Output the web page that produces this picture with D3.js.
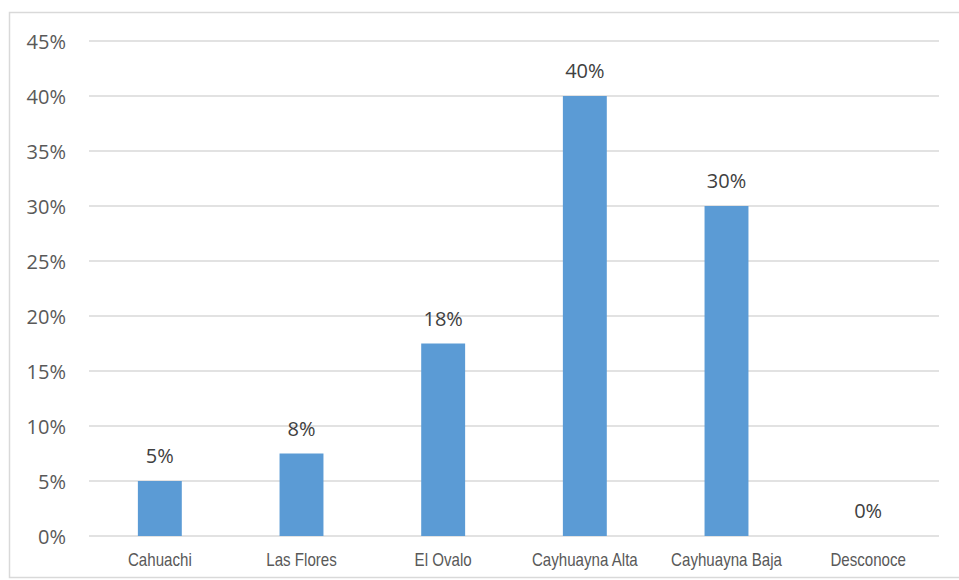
<!DOCTYPE html>
<html><head><meta charset="utf-8">
<script src="https://cdn.jsdelivr.net/npm/d3@7"></script>
<style>body{margin:0;background:#fff}svg{display:block}</style>
</head><body>
<svg id="c" width="959" height="580"></svg>
<script>
const categories = ["Cahuachi","Las Flores","El Ovalo","Cayhuayna Alta","Cayhuayna Baja","Desconoce"];
const values = [0.05, 0.075, 0.175, 0.40, 0.30, 0.0];
const valueLabels = ["5%","8%","18%","40%","30%","0%"];
const yTicks = [0,0.05,0.10,0.15,0.20,0.25,0.30,0.35,0.40,0.45];

(function(){
const svg = d3.select("#c");
const W = 959, H = 580;
svg.append("rect").attr("x",9.5).attr("y",12.5).attr("width",W).attr("height",H-15)
  .attr("fill","#fff").attr("stroke","#d9d9d9").attr("stroke-width",1.5);

const mLeft = 89, mRight = 939, mTop = 41, mBottom = 536;
const x = d3.scaleBand().domain(categories).range([mLeft,mRight]).padding(0);
const y = d3.scaleLinear().domain([0,0.45]).range([mBottom,mTop]);

const g = svg.append("g");
g.selectAll("line.grid").data(yTicks).join("line")
  .attr("x1",mLeft).attr("x2",mRight)
  .attr("y1",d=>y(d)).attr("y2",d=>y(d))
  .attr("stroke","#d9d9d9").attr("stroke-width",1.5);

const yAxis = d3.axisLeft(y).tickValues(yTicks).tickFormat(d3.format(".0%")).tickSize(0).tickPadding(23);
const ya = svg.append("g").attr("transform",`translate(${mLeft},0)`).call(yAxis);
ya.select(".domain").remove();
ya.selectAll("text").attr("fill","#595959").style("font-family","'Open Sans','Noto Sans',sans-serif").style("font-size","20px").attr("dy","0.36em");

const bw = x.bandwidth()*0.31;
g.selectAll("rect.bar").data(values).join("rect")
  .attr("x",(d,i)=>x(categories[i])+x.bandwidth()/2-bw/2)
  .attr("width",bw)
  .attr("y",d=>y(d)).attr("height",d=>y(0)-y(d))
  .attr("fill","#5b9bd5");

g.selectAll("text.lab").data(values).join("text")
  .attr("x",(d,i)=>x(categories[i])+x.bandwidth()/2)
  .attr("y",d=>y(d)-18)
  .attr("text-anchor","middle")
  .attr("fill","#404040")
  .style("font-family","'Open Sans','Noto Sans',sans-serif").style("font-size","20px")
  .text((d,i)=>valueLabels[i]);

const xAxis = d3.axisBottom(x).tickSize(0).tickPadding(17);
const xa = svg.append("g").attr("transform",`translate(0,${mBottom})`).call(xAxis);
xa.select(".domain").remove();
xa.selectAll("text").attr("fill","#595959")
  .style("font-family","'Liberation Sans',Arial,sans-serif").style("font-size","18px")
  .attr("transform","scale(0.84,1)");
})();
</script>
</body></html>
